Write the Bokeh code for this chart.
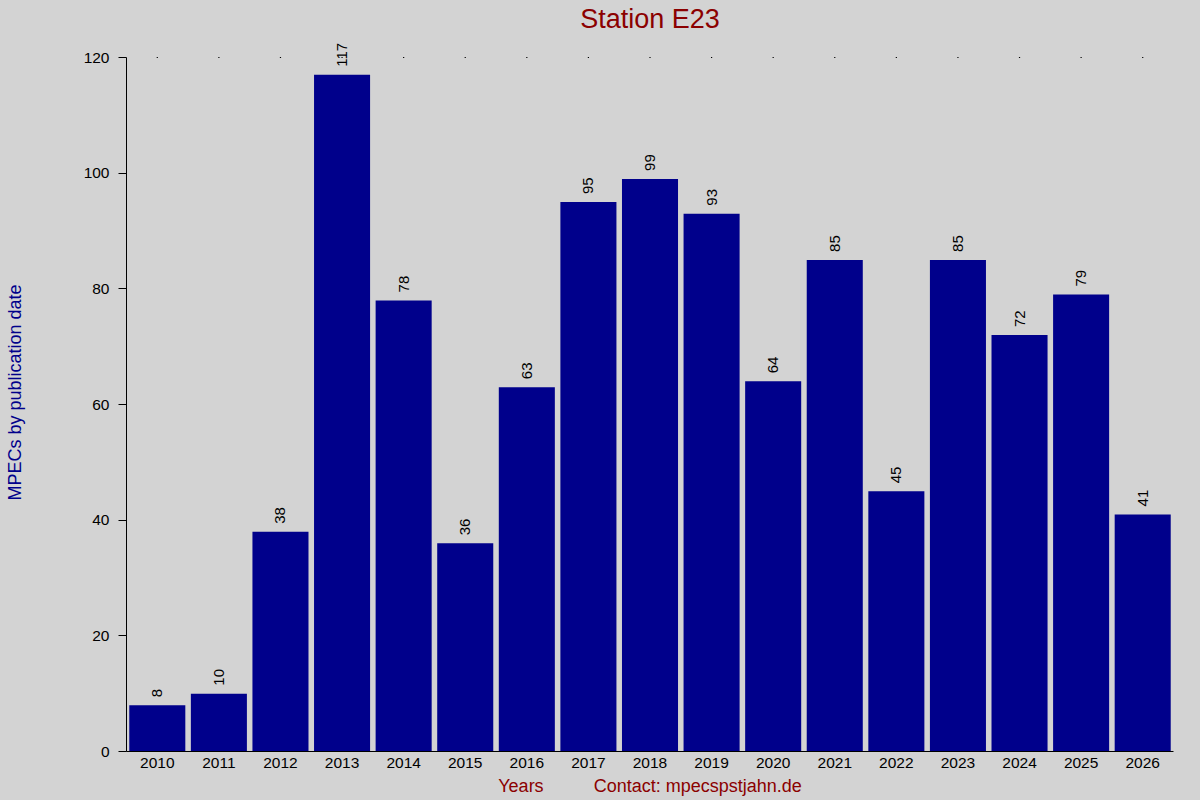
from math import pi
from bokeh.plotting import figure
from bokeh.models import (ColumnDataSource, FixedTicker, Range1d, FactorRange,
                          GlobalInlineStyleSheet)
from bokeh.core.properties import value
from bokeh.embed import file_html
from bokeh.resources import INLINE

years = ["2010", "2011", "2012", "2013", "2014", "2015", "2016", "2017", "2018",
         "2019", "2020", "2021", "2022", "2023", "2024", "2025", "2026"]
counts = [8, 10, 38, 117, 78, 36, 63, 95, 99, 93, 64, 85, 45, 85, 72, 79, 41]
y_ticks = [0, 20, 40, 60, 80, 100, 120]
title_text = "Station E23"
y_label = "MPECs by publication date"
x_label_left = "Years"
x_label_right = "Contact: mpecspstjahn.de"

FONT = "Liberation Sans"
BG = "#d3d3d3"
BAR = "#00008b"
RED = "#8b0000"

Y_MAX = y_ticks[-1]
Y_HEADROOM = 4.15   # free room above the axis top, so value labels are not clipped

src = ColumnDataSource(dict(year=years, count=counts, label=[str(c) for c in counts],
                            top=[Y_MAX] * len(years)))

p = figure(x_range=FactorRange(*years), y_range=Range1d(0, Y_MAX + Y_HEADROOM),
           width=1200, height=800, output_backend="svg", toolbar_location=None,
           min_border_left=126, min_border_right=27, min_border_top=33,
           min_border_bottom=49, background_fill_color=BG, border_fill_color=BG,
           outline_line_color=None)
p.stylesheets = [GlobalInlineStyleSheet(
    css="html,body{margin:0;padding:0;background:#d3d3d3;overflow:hidden;}")]

p.title.text = title_text
p.title.align = "center"
p.title.text_font = FONT
p.title.text_font_size = "27px"
p.title.text_font_style = "normal"
p.title.text_color = RED
p.title.standoff = 0

p.vbar(x="year", top="count", width=0.91, source=src, fill_color=BAR, line_color=None)
p.text(x="year", y="count", text="label", angle=pi / 2, text_align="left",
       text_baseline="middle", y_offset=-8, text_font=value(FONT),
       text_font_size="15px", text_color="black", source=src)
# small tick dots along the top edge of the plot area
p.scatter(x="year", y="top", marker="square", size=1.2, fill_color="black",
          line_color=None, source=src)

p.xgrid.visible = False
p.ygrid.visible = False

ya = p.yaxis[0]
ya.ticker = FixedTicker(ticks=y_ticks)
ya.bounds = (0, Y_MAX)
ya.minor_tick_line_color = None
ya.major_tick_out = 8
ya.major_tick_in = 0
ya.major_label_standoff = 9
ya.major_label_text_font = FONT
ya.major_label_text_font_size = "15.5px"
ya.major_label_text_color = "black"
ya.axis_line_color = "black"
ya.major_tick_line_color = "black"
ya.axis_label = y_label
ya.axis_label_text_font = FONT
ya.axis_label_text_font_size = "18px"
ya.axis_label_text_font_style = "normal"
ya.axis_label_text_color = BAR
ya.axis_label_standoff = 56

xa = p.xaxis[0]
xa.major_tick_line_color = None
xa.major_tick_out = 0
xa.major_tick_in = 0
xa.axis_line_color = "black"
xa.major_label_standoff = 6
xa.major_label_text_font = FONT
xa.major_label_text_font_size = "15.5px"
xa.major_label_text_color = "black"
xa.axis_label = x_label_left + "\u00a0" * 10 + x_label_right
xa.axis_label_text_font = FONT
xa.axis_label_text_font_size = "18px"
xa.axis_label_text_font_style = "normal"
xa.axis_label_text_color = RED
xa.axis_label_standoff = 5

open("out.html", "w").write(file_html(p, INLINE))
